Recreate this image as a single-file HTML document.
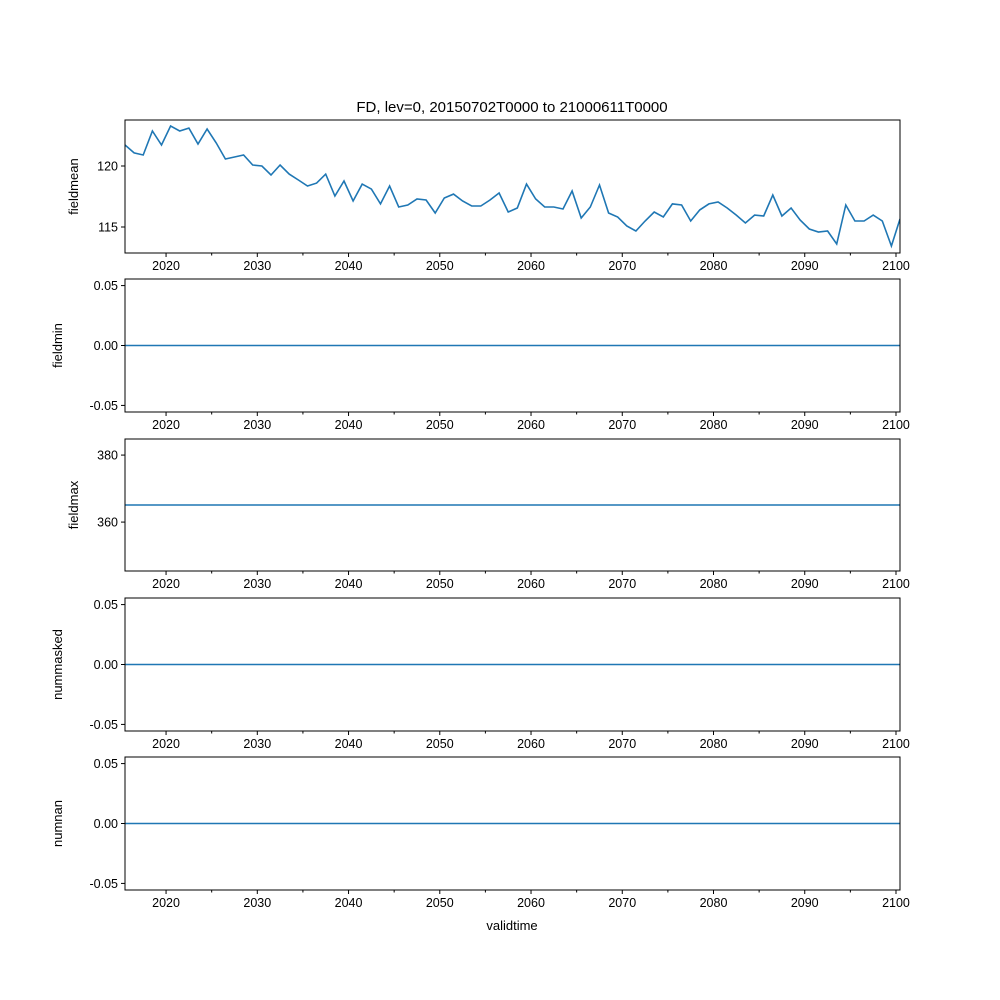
<!DOCTYPE html>
<html><head><meta charset="utf-8"><style>
body{margin:0;background:#fff;}
svg{display:block;font-family:"Liberation Sans","DejaVu Sans",sans-serif;}
</style></head><body>
<svg id="fig" width="1000" height="1000" viewBox="0 0 1000 1000">
<text x="512" y="112" font-size="15" text-anchor="middle">FD, lev=0, 20150702T0000 to 21000611T0000</text>
<text x="512" y="930" font-size="13" text-anchor="middle">validtime</text>
</svg>
<script>
const meanValues=[121.72,121.07,120.9,122.87,121.72,123.28,122.87,123.11,121.8,123.03,121.89,120.57,120.74,120.9,120.08,120,119.26,120.08,119.34,118.85,118.36,118.6,119.34,117.54,118.77,117.13,118.52,118.11,116.89,118.36,116.64,116.8,117.3,117.21,116.15,117.38,117.7,117.13,116.72,116.72,117.21,117.79,116.23,116.56,118.52,117.3,116.64,116.64,116.48,117.95,115.74,116.64,118.44,116.15,115.82,115.08,114.67,115.49,116.23,115.82,116.89,116.8,115.49,116.4,116.89,117.05,116.56,115.98,115.33,115.98,115.9,117.62,115.9,116.56,115.57,114.84,114.59,114.67,113.61,116.8,115.49,115.49,115.98,115.49,113.44,115.66];
const minValue=0, maxValue=365.1, maskedValue=0, nanValue=0;
const xTicks=[2020,2030,2040,2050,2060,2070,2080,2090,2100];
const xMinorTicks=[2025,2035,2045,2055,2065,2075,2085,2095];
const meanTicks=[115,120];
const zeroTicks=[-0.05,0,0.05];
const maxTicks=[360,380];
const NS='http://www.w3.org/2000/svg';
const svg=document.getElementById('fig');
const X0=125,X1=900,XMIN=2015.5,XMAX=2100.44;
const years=meanValues.map((v,i)=>Math.min(XMIN+i,XMAX));
const xs=v=>X0+(v-XMIN)/(XMAX-XMIN)*(X1-X0);
function mk(tag,attrs,parent){const e=document.createElementNS(NS,tag);for(const k in attrs)e.setAttribute(k,attrs[k]);(parent||svg).appendChild(e);return e;}
const panels=[
 {name:'fieldmean',top:120,bot:253,ymin:112.87,ymax:123.77,ticks:meanTicks,fmt:v=>String(v),series:meanValues,lx:78},
 {name:'fieldmin',top:279,bot:412,ymin:-0.0555,ymax:0.0555,ticks:zeroTicks,fmt:v=>v.toFixed(2),series:meanValues.map(()=>minValue),lx:62},
 {name:'fieldmax',top:439,bot:571,ymin:345.4,ymax:384.8,ticks:maxTicks,fmt:v=>String(v),series:meanValues.map(()=>maxValue),lx:78},
 {name:'nummasked',top:598,bot:731,ymin:-0.0555,ymax:0.0555,ticks:zeroTicks,fmt:v=>v.toFixed(2),series:meanValues.map(()=>maskedValue),lx:62},
 {name:'numnan',top:757,bot:890,ymin:-0.0555,ymax:0.0555,ticks:zeroTicks,fmt:v=>v.toFixed(2),series:meanValues.map(()=>nanValue),lx:62}
];
panels.forEach(p=>{
 const g=mk('g',{});
 
 
 const ys=v=>p.bot-(v-p.ymin)/(p.ymax-p.ymin)*(p.bot-p.top);
 const cid='clip-'+p.name;
 const cp=mk('clipPath',{id:cid},g);mk('rect',{x:X0,y:p.top,width:X1-X0,height:p.bot-p.top},cp);
 const d=p.series.map((v,i)=>(i?'L':'M')+xs(years[i]).toFixed(1)+','+ys(v).toFixed(1)).join('');
 const line=mk('path',{d:d,fill:'none',stroke:'#1f77b4','stroke-width':1.6,'clip-path':'url(#'+cid+')'},g);
 
 
 const frame=mk('rect',{x:X0,y:p.top,width:X1-X0,height:p.bot-p.top,fill:'none',stroke:'#000','stroke-width':1},g);
 
 
 xTicks.forEach(t=>{const x=xs(t);if(x>X1+1)return;
  mk('line',{x1:x,x2:x,y1:p.bot,y2:p.bot+4,stroke:'#000'},g);
  const tx=mk('text',{x:x,y:p.bot+17,'font-size':12.5,'text-anchor':'middle'},g);tx.textContent=t;
  
  });
 xMinorTicks.forEach(t=>{const x=xs(t);mk('line',{x1:x,x2:x,y1:p.bot,y2:p.bot+2.5,stroke:'#000'},g);});
 p.ticks.forEach(t=>{const y=ys(t);
  mk('line',{x1:X0-4,x2:X0,y1:y,y2:y,stroke:'#000'},g);
  const tx=mk('text',{x:X0-7,y:y+4.5,'font-size':12.5,'text-anchor':'end'},g);tx.textContent=p.fmt(t);
  
  });
 const cy=(p.top+p.bot)/2;
 const yl=mk('text',{x:p.lx,y:cy,'font-size':13,'text-anchor':'middle',transform:'rotate(-90 '+p.lx+' '+cy+')'},g);
 yl.textContent=p.name;
 
 
});
</script>
</body></html>
